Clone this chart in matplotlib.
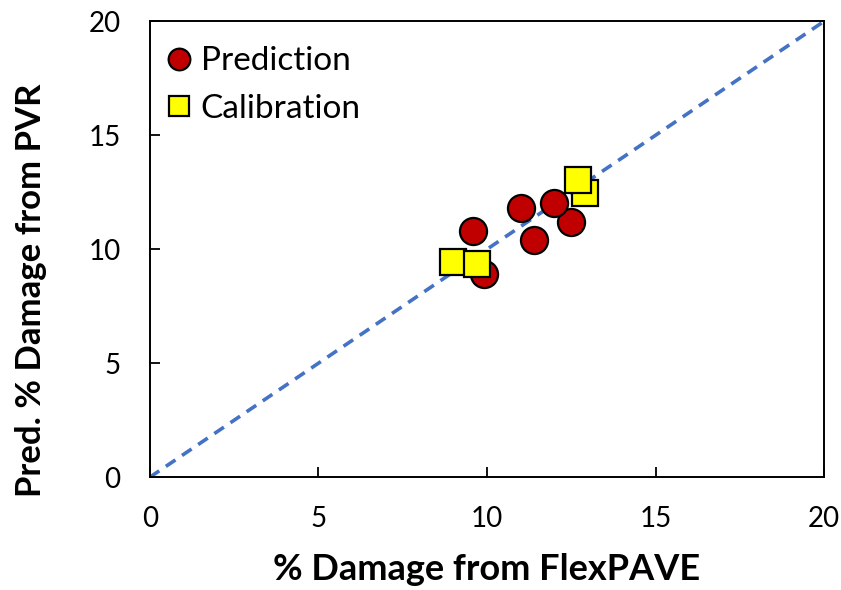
import matplotlib
matplotlib.use("Agg")
import matplotlib.pyplot as plt

# values
pred_x = [9.6, 11.0, 11.4, 12.5, 12.0, 9.9]
pred_y = [10.8, 11.8, 10.4, 11.2, 12.05, 8.9]
cal_x = [9.0, 9.7, 12.9, 12.7]
cal_y = [9.45, 9.35, 12.45, 13.05]
line_x = [0, 20]
line_y = [0, 20]

plt.rcParams["font.family"] = ["Lato", "DejaVu Sans"]

fig = plt.figure(figsize=(8.41, 5.9), dpi=100)
ax = fig.add_axes([0.178, 0.191, 0.802, 0.773])

ax.plot(line_x, line_y, ls=(0, (3.2, 2.2)), color="#4472C4", lw=2.6, zorder=1)
ax.plot(pred_x, pred_y, "o", ms=19.5, mfc="#C00000", mec="black", mew=1.6,
        ls="none", label="Prediction", zorder=2)
ax.plot(cal_x, cal_y, "s", ms=18.5, mfc="#FFFF00", mec="black", mew=1.6,
        ls="none", label="Calibration", zorder=3)

ax.set_xlim(0, 20); ax.set_ylim(0, 20)
ax.set_xticks([0, 5, 10, 15, 20]); ax.set_yticks([0, 5, 10, 15, 20])
ax.tick_params(direction="in", length=7, width=1.3, labelsize=20)
ax.tick_params(axis="x", pad=21)
ax.tick_params(axis="y", pad=21)
for s in ax.spines.values():
    s.set_linewidth(1.4)

ax.set_xlabel("% Damage from FlexPAVE", fontsize=26, fontweight="bold", labelpad=15)
ax.set_ylabel("Pred. % Damage from PVR", fontsize=25, fontweight="bold")
ax.yaxis.set_label_coords(-0.152, 0.41)

ax.legend(loc="upper left", frameon=False, fontsize=24, markerscale=0.8,
          handlelength=0.7, handletextpad=0.3, labelspacing=0.52,
          borderaxespad=0, borderpad=0, bbox_to_anchor=(0.026, 0.945))

fig.savefig("out.png", dpi=100)
